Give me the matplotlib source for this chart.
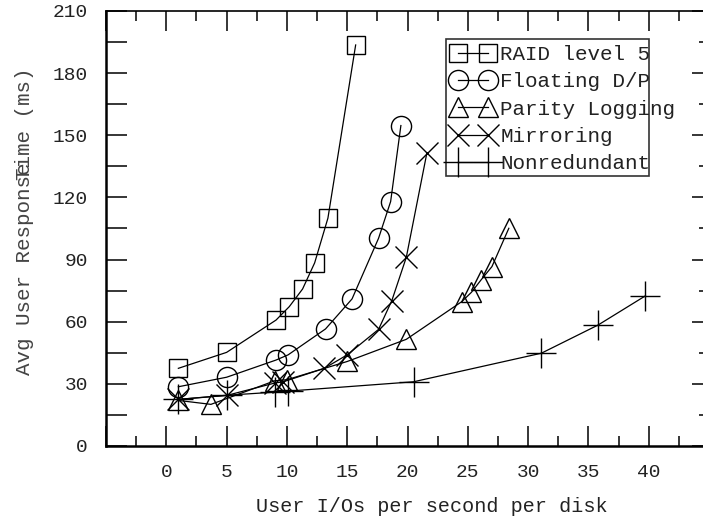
import matplotlib
matplotlib.use("Agg")
import matplotlib.pyplot as plt
from matplotlib.lines import Line2D
from matplotlib.legend_handler import HandlerLine2D
from matplotlib.patches import Rectangle
from matplotlib.ticker import MultipleLocator, FuncFormatter

plt.rcParams['font.family'] = ['Liberation Mono', 'DejaVu Sans Mono']

# ---- data ----
raid5_x = [1, 5, 9.1, 10.2, 11.3, 12.3, 13.4, 15.7]
raid5_y = [37.5, 45.2, 60.8, 67.3, 75.8, 88.4, 110, 193.6]

fdp_x = [1, 5, 9.1, 10.1, 13.2, 15.4, 17.6, 18.6, 19.45]
fdp_y = [28.6, 33.2, 41.5, 44, 56.5, 71, 100.3, 118, 154.7]

plog_x = [1, 3.7, 9.0, 10.0, 15.0, 19.9, 24.5, 25.3, 26.1, 27.0, 28.4]
plog_y = [22, 20.1, 31.5, 32, 40.8, 51.5, 69.7, 74.2, 80.2, 86.6, 105.1]

mirr_x = [1, 5, 9.0, 9.7, 13.1, 15.0, 17.6, 18.7, 19.9, 21.6]
mirr_y = [22.5, 24.4, 30.4, 31, 37.5, 44, 56.3, 70.2, 91.1, 141.3]

nonr_x = [1, 5, 9.0, 10.1, 20.5, 31.1, 35.8, 39.7]
nonr_y = [22.5, 24.5, 26, 26.5, 31.0, 44.8, 58.4, 72.4]

labels = ["RAID level 5", "Floating D/P", "Parity Logging", "Mirroring", "Nonredundant"]
x_tick_labels = [0, 5, 10, 15, 20, 25, 30, 35, 40]
y_tick_labels = [0, 30, 60, 90, 120, 150, 180, 210]

TXT = '#222222'

fig = plt.figure(figsize=(7.03, 5.19), dpi=100)
ax = fig.add_axes([106/703, 73/519, 597/703, 435/519])
ax.set_xlim(-5, 44.5)
ax.set_ylim(0, 210)

series = [
    (raid5_x, raid5_y, 's', 13),
    (fdp_x, fdp_y, 'o', 14.5),
    (plog_x, plog_y, '^', 14.5),
    (mirr_x, mirr_y, 'x', 15.5),
    (nonr_x, nonr_y, '+', 22),
]
handles = []
for (xs, ys, m, ms), lab in zip(series, labels):
    h, = ax.plot(xs, ys, color='black', lw=0.9, marker=m, markersize=ms,
                 markerfacecolor='none', markeredgecolor='black',
                 markeredgewidth=1.0, label=lab)
    handles.append(h)

# ticks
ax.xaxis.set_major_locator(MultipleLocator(5))
ax.xaxis.set_minor_locator(MultipleLocator(2.5))
ax.xaxis.set_major_formatter(FuncFormatter(
    lambda v, p: (str(int(round(v))) if int(round(v)) in x_tick_labels else '')))
ax.yaxis.set_major_locator(MultipleLocator(30))
ax.yaxis.set_minor_locator(MultipleLocator(15))
ax.yaxis.set_major_formatter(FuncFormatter(
    lambda v, p: (str(int(round(v))) if int(round(v)) in y_tick_labels else '')))

ax.tick_params(axis='x', which='both', direction='in', top=True, bottom=True,
               labelsize=14, labelcolor=TXT, pad=13)
ax.tick_params(axis='x', which='major', length=14.5, width=1.1)
ax.tick_params(axis='x', which='minor', length=7, width=1.1)
ax.tick_params(axis='y', which='both', direction='in', left=True, right=False,
               length=15, width=1.1, labelsize=14, labelcolor=TXT, pad=13)

for s in ['left', 'bottom']:
    ax.spines[s].set_linewidth(1.8)
ax.spines['top'].set_linewidth(1.2)
ax.spines['right'].set_visible(False)

# right-side ticks (shorter)
ax2 = ax.twinx()
ax2.set_ylim(ax.get_ylim())
ax2.yaxis.set_major_locator(MultipleLocator(30))
ax2.yaxis.set_minor_locator(MultipleLocator(15))
ax2.tick_params(axis='y', which='both', direction='in', right=True, left=False,
                labelright=False, width=1.1)
ax2.tick_params(axis='y', which='major', length=8)
ax2.tick_params(axis='y', which='minor', length=3)
for s in ax2.spines.values():
    s.set_visible(False)

# axis labels
ax.set_xlabel("User I/Os per second per disk", fontsize=14.5, color=TXT)
ax.xaxis.set_label_coords((432 - 106) / 597, (446 - 507) / 435)
ax.xaxis.label.set_va('center')

fig.text(24/703, (519 - 375)/519, "Avg User Response", rotation=90,
         ha='center', va='bottom', fontsize=15, color='#444444')
fig.text(24/703, (519 - 68)/519, "Time (ms)", rotation=90,
         ha='center', va='top', fontsize=15, color='#444444')

# legend
leg = ax.legend(handles=handles, loc='upper left',
                bbox_to_anchor=((446 - 106) / 597, (446 - 45) / 435),
                frameon=False, fontsize=15, borderpad=0, borderaxespad=0,
                handlelength=2.6, handletextpad=0.0, labelspacing=0.40,
                handler_map={Line2D: HandlerLine2D(marker_pad=0.6, numpoints=2)})
for t in leg.get_texts():
    t.set_color(TXT)
ax.add_patch(Rectangle(((446 - 106) / 597, (446 - 176) / 435),
                       (649 - 446) / 597, (176 - 39) / 435,
                       transform=ax.transAxes, fill=False,
                       edgecolor='#333333', lw=1.2, zorder=5, clip_on=False))

fig.savefig("out.png", dpi=100)
